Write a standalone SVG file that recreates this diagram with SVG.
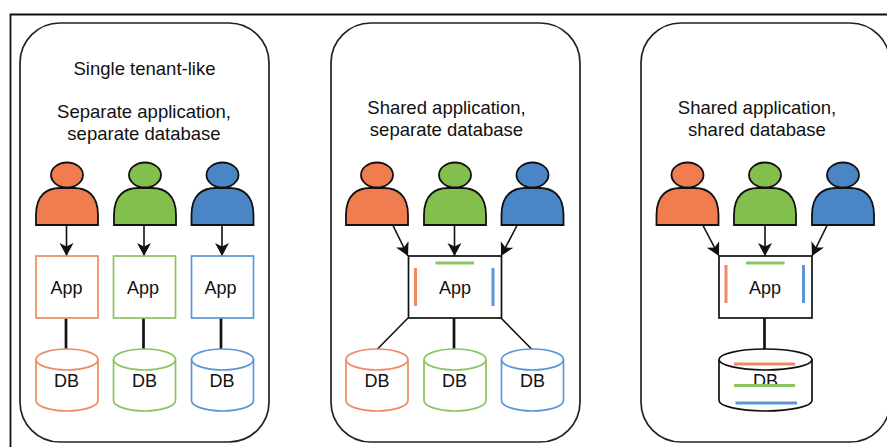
<svg xmlns="http://www.w3.org/2000/svg" width="887" height="447" viewBox="0 0 887 447">
<style>
text{font-family:"Liberation Sans",Arial,sans-serif;font-size:18px;fill:#111;text-anchor:middle}
text.h{font-size:18.500px}
.card{fill:#fff;stroke:#222;stroke-width:1.7}
.p{stroke:#111;stroke-width:1.8}
.o{fill:#ef7d50}.g{fill:#82bf4c}.b{fill:#4a86c5}
.so{stroke:#f08a64}.sg{stroke:#8cc45e}.sb{stroke:#5b97d8}
.box{fill:#fff;stroke-width:1.7}
.k{stroke:#111}
.c{fill:none;stroke:#111;stroke-width:1.6}
.t{fill:none;stroke:#111;stroke-width:2.7}
.m{fill:none;stroke-width:3}
</style>
<defs>
<marker id="a" markerUnits="userSpaceOnUse" markerWidth="14" markerHeight="16" refX="13" refY="7" orient="auto"><path d="M0 0L13 7L0 14L3.500 7Z" fill="#111"/></marker>
<g id="person"><ellipse cx="31" cy="12" rx="16" ry="12.500"/><path d="M0 62V52C0 32 11 25 24 25H38C51 25 62 32 62 52V62Z"/></g>
<g id="dbs"><path d="M0 10.500A31 10.500 0 0 1 62 10.500V51.500A31 10.500 0 0 1 0 51.500Z"/><path d="M0 10.500A31 10.500 0 0 0 62 10.500" fill="none"/></g>
<g id="dbw"><path d="M0 10.500A46.500 10.500 0 0 1 93 10.500V51.500A46.500 10.500 0 0 1 0 51.500Z"/><path d="M0 10.500A46.500 10.500 0 0 0 93 10.500" fill="none"/></g>
</defs>
<rect width="887" height="447" fill="#fff"/>
<path id="frame" d="M10.500 447V14.500H887" fill="none" stroke="#111" stroke-width="1.800"/>
<g id="card1"><rect class="card" x="20" y="23" width="249" height="419" rx="40"/><text class="h" x="144.500" y="75">Single tenant-like</text><text class="h" x="144" y="118">Separate application,</text><text class="h" x="144" y="140">separate database</text></g>
<g id="card2"><rect class="card" x="331" y="23" width="249" height="419" rx="40"/><text class="h" x="446.500" y="114">Shared application,</text><text class="h" x="446.500" y="136">separate database</text></g>
<g id="card3"><rect class="card" x="641" y="23" width="249" height="419" rx="40"/><text class="h" x="757" y="114">Shared application,</text><text class="h" x="757" y="136">shared database</text></g>
<g id="connectors">
<path class="c" d="M66.500 225.500V256" marker-end="url(#a)"/><path class="c" d="M144 225.500V256" marker-end="url(#a)"/><path class="c" d="M222 225.500V256" marker-end="url(#a)"/>
<path class="t" d="M66 318V349M143.500 318V349M221 318V349"/>
<path class="c" d="M393 225.500L408 256" marker-end="url(#a)"/><path class="c" d="M454.500 225.500V256" marker-end="url(#a)"/><path class="c" d="M517 225.500L501 256" marker-end="url(#a)"/>
<path class="c" d="M408 318L377 349.500M501 318L532 349.500"/><path class="t" d="M454 318V349"/>
<path class="c" d="M703 225.500L719 256" marker-end="url(#a)"/><path class="c" d="M765 225.500V256" marker-end="url(#a)"/><path class="c" d="M827 225.500L812 256" marker-end="url(#a)"/>
<path class="t" d="M764.500 318V349"/>
</g>
<g id="u1o"><use href="#person" x="36" y="163" class="p o"/></g>
<g id="u1g"><use href="#person" x="114" y="163" class="p g"/></g>
<g id="u1b"><use href="#person" x="191.500" y="163" class="p b"/></g>
<g id="app1o"><rect class="box so" x="36" y="256" width="62" height="62"/><text x="66.500" y="294">App</text></g>
<g id="app1g"><rect class="box sg" x="113.500" y="256" width="62" height="62"/><text x="143" y="294">App</text></g>
<g id="app1b"><rect class="box sb" x="191.500" y="256" width="62" height="62"/><text x="220.500" y="294">App</text></g>
<g id="db1o"><use href="#dbs" x="36" y="349" class="box so"/><text x="66.500" y="387">DB</text></g>
<g id="db1g"><use href="#dbs" x="113.500" y="349" class="box sg"/><text x="144.500" y="387">DB</text></g>
<g id="db1b"><use href="#dbs" x="191.500" y="349" class="box sb"/><text x="222" y="387">DB</text></g>
<g id="u2o"><use href="#person" x="346" y="163" class="p o"/></g>
<g id="u2g"><use href="#person" x="424" y="163" class="p g"/></g>
<g id="u2b"><use href="#person" x="501.500" y="163" class="p b"/></g>
<g id="app2"><rect class="box k" x="408.500" y="256" width="93" height="62"/><text x="455" y="294">App</text><path class="m so" d="M415.500 268V306"/><path class="m sg" d="M435.500 263H474"/><path class="m sb" d="M493 268V306"/></g>
<g id="db2o"><use href="#dbs" x="346" y="349" class="box so"/><text x="377" y="387">DB</text></g>
<g id="db2g"><use href="#dbs" x="424" y="349" class="box sg"/><text x="454.500" y="387">DB</text></g>
<g id="db2b"><use href="#dbs" x="501.500" y="349" class="box sb"/><text x="532.500" y="387">DB</text></g>
<g id="u3o"><use href="#person" x="656.500" y="163" class="p o"/></g>
<g id="u3g"><use href="#person" x="734" y="163" class="p g"/></g>
<g id="u3b"><use href="#person" x="812" y="163" class="p b"/></g>
<g id="app3"><rect class="box k" x="719" y="256" width="93" height="62"/><text x="765" y="294">App</text><path class="m so" d="M726 265V303"/><path class="m sg" d="M746 263H784.500"/><path class="m sb" d="M803.500 265V303"/></g>
<g id="db3"><use href="#dbw" x="719" y="349" class="box k"/><text x="765.500" y="387">DB</text><rect x="735" y="386" width="60" height="8" fill="#fff"/><path class="m so" d="M734 364H795"/><path class="m sg" d="M734 385.500H795"/><path class="m sb" d="M735.500 403H797"/></g>
</svg>
